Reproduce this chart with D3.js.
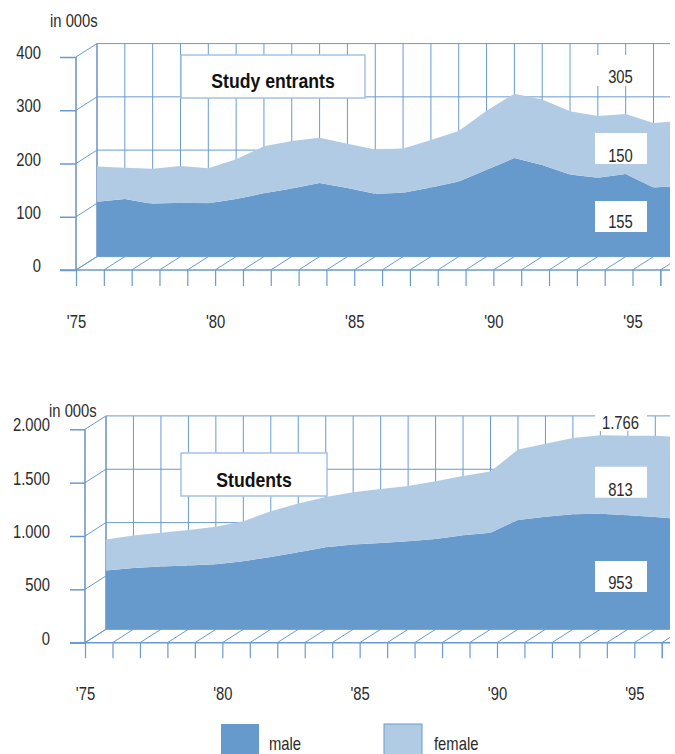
<!DOCTYPE html>
<html>
<head>
<meta charset="utf-8">
<script src="https://cdn.jsdelivr.net/npm/d3@7"></script>
<style>
  html, body { margin: 0; padding: 0; background: #fff; }
  svg { display: block; }
  text { font-family: "Liberation Sans", sans-serif; fill: #2b2b2b; }
</style>
</head>
<body>
<svg id="chart" width="675" height="754"></svg>
<script>
const years = d3.range(1975, 1997);

const entrants_male = [103,108,99,101,100,108,119,128,138,129,118,120,130,141,163,185,172,154,148,155,130,133];
const entrants_female = [66,59,66,69,66,75,88,89,85,83,83,83,89,95,111,121,123,119,116,113,121,122];
const entrants_ticks = [0,100,200,300,400];
const entrants_labels = ["305","150","155"];

const students_male = [550,575,588,597,609,638,678,722,769,794,809,825,847,881,906,1025,1056,1078,1084,1069,1053,1028];
const students_female = [291,303,316,334,353,375,428,456,472,491,506,519,541,556,572,659,684,716,734,744,762,772];
const students_ticks = [0,500,1000,1500,2000];
const students_labels = ["1.766","813","953"];

const series_names = ["male","female"];

const color_male = "#6699cc";
const color_female = "#b2cbe4";
const color_grid = "#6a9bd0";
const color_wall = "#6c8fb8";
const color_box = "#a3c2e2";
const label_size = "18.5px";

const svg = d3.select("#chart");
const de = d3.formatLocale({decimal: ",", thousands: ".", grouping: [3], currency: ["", ""]});

function draw_chart(o) {
    const g = svg.append("g");

    // front plane scales, the back plane is the same thing shifted by dx,dy
    const x = d3.scaleLinear().domain([1975, 1995]).range([o.x0, o.x95]);
    const y = d3.scaleLinear().domain([0, o.ticks[o.ticks.length - 1]]).range([o.y0, o.yTop]);
    const dx = o.dx, dy = -13.4;
    const right = 670;

    const clip_id = "clip_" + o.name;
    svg.append("clipPath").attr("id", clip_id)
        .append("rect").attr("x", 0).attr("y", 0).attr("width", right).attr("height", 754);

    const plot = g.append("g").attr("clip-path", "url(#" + clip_id + ")");

    // back wall
    const back = plot.append("g").attr("stroke", color_grid).attr("stroke-width", 1).attr("fill", "none");
    back.selectAll("line.v")
        .data(years.concat([1997]))
        .enter()
        .append("line")
        .attr("class", "v")
        .attr("x1", d => x(d) + dx)
        .attr("x2", d => x(d) + dx)
        .attr("y1", y(o.ticks[o.ticks.length - 1]) + dy)
        .attr("y2", y(0) + dy)
        .attr("stroke", d => d == 1975 ? color_wall : color_grid)
        .attr("stroke-width", d => d == 1975 ? 1.5 : 1);
    back.selectAll("line.h")
        .data(o.ticks)
        .enter()
        .append("line")
        .attr("class", "h")
        .attr("x1", x(1975) + dx)
        .attr("x2", right)
        .attr("y1", d => y(d) + dy)
        .attr("y2", d => y(d) + dy);

    // side wall and floor diagonals
    const diag = plot.append("g").attr("stroke", color_grid).attr("stroke-width", 1);
    diag.selectAll("line.side")
        .data(o.ticks)
        .enter()
        .append("line")
        .attr("class", "side")
        .attr("x1", x(1975))
        .attr("x2", x(1975) + dx)
        .attr("y1", d => y(d))
        .attr("y2", d => y(d) + dy);
    diag.selectAll("line.floor")
        .data(years.concat([1997]))
        .enter()
        .append("line")
        .attr("class", "floor")
        .attr("x1", d => x(d))
        .attr("x2", d => x(d) + dx)
        .attr("y1", y(0))
        .attr("y2", y(0) + dy);

    // stacked areas sit on the back plane
    const rows = years.map((yr, i) => ({year: yr, male: o.male[i], female: o.female[i]}));
    const stacked = d3.stack().keys(series_names)(rows);
    const area = d3.area()
        .x(d => x(d.data.year) + dx)
        .y0(d => y(d[0]) + dy)
        .y1(d => y(d[1]) + dy);
    plot.selectAll("path.layer")
        .data(stacked)
        .enter()
        .append("path")
        .attr("class", "layer")
        .attr("d", area)
        .attr("fill", d => d.key == "male" ? color_male : color_female);

    // front left edge
    g.append("line")
        .attr("x1", x(1975)).attr("x2", x(1975))
        .attr("y1", y(o.ticks[o.ticks.length - 1])).attr("y2", y(0))
        .attr("stroke", color_wall).attr("stroke-width", 1.5);

    const yAxis = d3.axisLeft(y)
        .tickValues(o.ticks)
        .tickSize(x(1975) - o.tickLeft)
        .tickPadding(o.tickLeft - o.labelRight)
        .tickFormat(d => de.format(",")(d));
    const ya = g.append("g")
        .attr("transform", "translate(" + x(1975) + ",0)")
        .call(yAxis);
    ya.select(".domain").remove();
    ya.selectAll("line").attr("stroke", color_grid).attr("stroke-width", 1.5);
    ya.selectAll("text")
        .attr("dy", null)
        .attr("y", 1.5)
        .style("font-size", label_size)
        .attr("fill", "#2b2b2b");

    const xAxis = d3.axisBottom(x)
        .tickValues(years.concat([1996]))
        .tickSize(o.tickDown)
        .tickPadding(o.labelDown - o.tickDown)
        .tickFormat(d => d % 5 == 0 ? "'" + String(d).slice(2) : "");
    const xa = plot.append("g")
        .attr("transform", "translate(0," + y(0) + ")")
        .call(xAxis);
    xa.select(".domain").remove();
    xa.selectAll("line").attr("stroke", color_grid).attr("stroke-width", 1.2);
    xa.selectAll("text")
        .attr("dy", null)
        .style("font-size", label_size)
        .attr("fill", "#2b2b2b");

    plot.append("line")
        .attr("x1", o.tickLeft).attr("x2", right)
        .attr("y1", y(0)).attr("y2", y(0))
        .attr("stroke", color_grid).attr("stroke-width", 1.5);

    g.append("text")
        .attr("x", o.unitX)
        .attr("y", o.unitY)
        .style("font-size", label_size)
        .text("in 000s");

    // title box
    g.append("rect")
        .attr("x", o.box[0]).attr("y", o.box[1])
        .attr("width", o.box[2]).attr("height", o.box[3])
        .attr("fill", "#fff")
        .attr("stroke", color_box)
        .attr("stroke-width", 1.5);
    g.append("text")
        .attr("x", o.box[0] + o.box[2] / 2)
        .attr("y", o.box[1] + o.titleDy)
        .attr("text-anchor", "middle")
        .style("font-size", "21px")
        .style("font-weight", "bold")
        .style("fill", "#111")
        .text(o.title);

    // figures on white patches
    const patches = g.selectAll("g.patch")
        .data(o.labels)
        .enter()
        .append("g")
        .attr("class", "patch");
    patches.append("rect")
        .attr("x", 595)
        .attr("y", (d, i) => o.labelY[i] - o.labelUp[i])
        .attr("width", 52)
        .attr("height", 31)
        .attr("fill", "#fff");
    patches.append("text")
        .attr("x", 620.5)
        .attr("y", (d, i) => o.labelY[i])
        .attr("text-anchor", "middle")
        .style("font-size", label_size)
        .text(d => d);
}

draw_chart({
    name: "entrants", title: "Study entrants",
    male: entrants_male, female: entrants_female, ticks: entrants_ticks, labels: entrants_labels,
    x0: 76, x95: 632.5, y0: 270, yTop: 57, dx: 21,
    tickLeft: 60, labelRight: 41, tickDown: 16, labelDown: 58,
    unitX: 50, unitY: 27,
    box: [181, 55, 184, 43], titleDy: 33,
    labelY: [83, 162, 228], labelUp: [28, 29, 27]
});

draw_chart({
    name: "students", title: "Students",
    male: students_male, female: students_female, ticks: students_ticks, labels: students_labels,
    x0: 85, x95: 634.3, y0: 642.7, yTop: 429.3, dx: 21,
    tickLeft: 70, labelRight: 50, tickDown: 15.5, labelDown: 57.5,
    unitX: 49, unitY: 417,
    box: [181, 453, 146, 43], titleDy: 34,
    labelY: [429, 495.7, 589], labelUp: [29, 29, 28]
});

// legend
const legend_x = [221, 384];
const legend_text_x = [269, 434];
const legend = svg.selectAll("g.legend")
    .data(series_names)
    .enter()
    .append("g")
    .attr("class", "legend");
legend.append("rect")
    .attr("x", (d, i) => legend_x[i])
    .attr("y", 724)
    .attr("width", 38)
    .attr("height", 40)
    .attr("fill", d => d == "male" ? color_male : color_female)
    .attr("stroke", d => d == "male" ? "none" : color_grid);
legend.append("text")
    .attr("x", (d, i) => legend_text_x[i])
    .attr("y", 749.5)
    .style("font-size", label_size)
    .text(d => d);

// squeeze everything to a condensed look, no narrow face is installed
svg.selectAll("text").each(function() {
    const t = d3.select(this);
    const len = this.getComputedTextLength();
    if (len > 0) {
        const bold = t.style("font-weight") == "700" || t.style("font-weight") == "bold";
        t.attr("textLength", len * (bold ? 0.84 : 0.8)).attr("lengthAdjust", "spacingAndGlyphs");
    }
});
</script>
</body>
</html>
